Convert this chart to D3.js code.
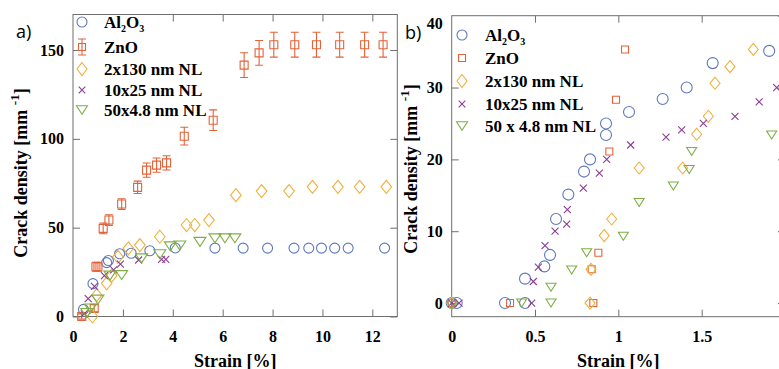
<!DOCTYPE html>
<html>
<head>
<meta charset="utf-8">
<script src="https://cdn.jsdelivr.net/npm/d3@7"></script>
<style>
  html, body { margin: 0; padding: 0; background: white; }
  svg { display: block; }
</style>
</head>
<body>
<div id="app"></div>
<script>
// panel a: strain [%], crack density [1/mm]
const al2o3A = [[0.42,4],[0.8,18.5],[1.35,30.3],[1.42,31.5],[1.87,35.3],[2.33,35.6],[3.08,37],[4.1,38.6],[5.69,38.5],[6.82,38.5],[7.8,38.5],[8.86,38.5],[9.45,38.5],[9.96,38.5],[10.49,38.5],[11.03,38.5],[12.49,38.5]];
// x, y, error
const znoA = [[0.35,0,1.5],[0.85,4.6,2],[0.92,28,2.5],[1.0,28,2.5],[1.21,49.6,3],[1.44,54.3,3],[1.95,63.3,3],[2.59,72.7,3.5],[2.95,82.4,4],[3.35,85.2,4],[3.75,86.5,4],[4.46,101.5,5],[5.62,110.5,5.8],[6.86,141.5,7],[7.46,148.4,7],[8.05,153,7],[8.89,153,7],[9.76,153,7],[10.69,153,7],[11.69,153,7],[12.43,153,7]];
const nl130A = [[0.78,0],[0.95,12],[1.35,18.7],[1.55,23],[1.8,33.6],[2.22,38.4],[2.68,40.2],[3.48,44.9],[4.55,51.5],[4.88,51.5],[5.45,54.3],[6.53,68.3],[7.56,70.6],[8.66,70.6],[9.6,73],[10.62,73],[11.49,73],[12.56,73]];
const nl25A = [[0.45,1.5],[0.61,10],[0.86,17],[1.26,23],[1.63,26.2],[1.9,29.5],[2.63,31.8],[3.55,32.2],[3.72,32.2]];
const nl48A = [[0.55,2],[0.7,4.5],[1.0,9.5],[1.48,23],[1.95,23.3],[2.75,32.7],[3.48,35],[3.9,39.5],[4.28,40],[5.09,42],[5.69,44],[6.09,44],[6.49,44]];

// panel b: zoom on low strain
const al2o3B = [[0,0],[0.03,0],[0.32,0],[0.44,0],[0.44,3.4],[0.556,5.1],[0.59,6.7],[0.626,11.7],[0.70,15.1],[0.794,18.3],[0.83,20.0],[0.926,23.4],[0.926,25.0],[1.064,26.6],[1.266,28.4],[1.41,30.0],[1.566,33.4],[1.905,35.1]];
const znoB = [[0,0],[0.35,0],[0.85,0],[0.84,4.7],[0.88,7],[0.946,21.1],[0.986,28.3],[1.04,35.3]];
const nl130B = [[0,0],[0.83,0],[0.836,4.7],[0.915,9.4],[0.96,11.7],[1.125,18.8],[1.386,18.8],[1.47,23.5],[1.54,26],[1.58,30.6],[1.67,32.9],[1.81,35.3]];
const nl25B = [[0,0],[0.044,0],[0.48,0],[0.49,3],[0.52,5],[0.56,8],[0.62,10],[0.69,11],[0.694,13],[0.79,16],[0.886,18.1],[0.93,20],[1.074,22],[1.286,23.1],[1.38,24.1],[1.51,25],[1.70,26],[1.845,28],[1.95,30]];
const nl48B = [[0,-0.3],[0.42,0],[0.596,0],[0.596,2.2],[0.72,4.6],[0.81,7],[1.03,9.3],[1.125,14],[1.33,16.3],[1.425,18.6],[1.44,21.1],[1.92,23.4]];

const xTicksA = [0, 2, 4, 6, 8, 10, 12];
const yTicksA = [0, 50, 100, 150];
const xTicksB = [0, 0.5, 1, 1.5, 2];
const yTicksB = [0, 10, 20, 30, 40];

const legendNamesA = ['Al2O3', 'ZnO', '2x130 nm NL', '10x25 nm NL', '50x4.8 nm NL'];
const legendNamesB = ['Al2O3', 'ZnO', '2x130 nm NL', '10x25 nm NL', '50 x 4.8 nm NL'];

const colors = ['#5d79bd', '#e2633a', '#efb13c', '#8b3d93', '#7fae45'];
const shapes = ['circle', 'square', 'diamond', 'cross', 'triangle'];

const width = 779;
const height = 369;
const axisColor = '#6e6e6e';
const serif = "'Liberation Serif', 'Times New Roman', serif";

const svg = d3.select('#app').append('svg')
  .attr('width', width)
  .attr('height', height);

// marker paths
const markerPath = (shape, s) => {
  if (shape === 'circle') {
    const r = s.r;
    return `M${r},0A${r},${r} 0 1,1 ${-r},0A${r},${r} 0 1,1 ${r},0Z`;
  }
  if (shape === 'square') {
    const h = s.sq;
    return `M${-h},${-h}H${h}V${h}H${-h}Z`;
  }
  if (shape === 'diamond') {
    return `M0,${-s.dh}L${s.dw},0L0,${s.dh}L${-s.dw},0Z`;
  }
  if (shape === 'triangle') {
    return `M${-s.tw},${-s.th}L${s.tw},${-s.th}L0,${s.th}Z`;
  }
  const a = s.x;
  return `M${-a},${-a}L${a},${a}M${-a},${a}L${a},${-a}`;
};

function drawPanel(cfg) {
  const { xScale, yScale, xTicks, yTicks, series, sizes, g } = cfg;
  const [x0, x1] = xScale.range();
  const [y0, y1] = yScale.range();

  // box
  g.append('rect')
    .attr('x', x0).attr('y', y1)
    .attr('width', x1 - x0).attr('height', y0 - y1)
    .attr('fill', 'white')
    .attr('stroke', axisColor)
    .attr('stroke-width', 1);

  const styleAxis = (sel) => {
    sel.select('.domain').remove();
    sel.selectAll('.tick line').attr('stroke', axisColor);
    sel.selectAll('.tick text')
      .style('font-family', serif)
      .style('font-weight', 'bold')
      .style('font-size', '16px')
      .attr('fill', 'black');
  };

  const xAxis = g.append('g')
    .attr('transform', `translate(0,${y0})`)
    .call(d3.axisBottom(xScale).tickValues(xTicks).tickSizeInner(-7).tickSizeOuter(0)
      .tickPadding(cfg.xPad).tickFormat(d3.format('')))
    .call(styleAxis);
  g.append('g')
    .attr('transform', `translate(0,${y1})`)
    .call(d3.axisTop(xScale).tickValues(cfg.topTicks).tickSizeInner(-7).tickSizeOuter(0).tickFormat(''))
    .call(styleAxis);
  const yAxis = g.append('g')
    .attr('transform', `translate(${x0},0)`)
    .call(d3.axisLeft(yScale).tickValues(yTicks).tickSizeInner(-7).tickSizeOuter(0)
      .tickPadding(cfg.yPad).tickFormat(d3.format('')))
    .call(styleAxis);
  g.append('g')
    .attr('transform', `translate(${x1},0)`)
    .call(d3.axisRight(yScale).tickValues(yTicks).tickSizeInner(-7).tickSizeOuter(0).tickFormat(''))
    .call(styleAxis);
  // hide the corner tick marks
  xAxis.selectAll('.tick line').filter((d) => d === xTicks[0] || xScale(d) >= x1 - 1).remove();
  yAxis.selectAll('.tick line').filter((d) => yScale(d) <= y1 + 1).remove();
  if (cfg.topLabelShift) {
    yAxis.selectAll('.tick text').filter((d) => yScale(d) <= y1 + 1).attr('dy', '0.78em');
  }

  // error bars
  series.forEach((s) => {
    if (!s.errors) return;
    const eb = g.append('g').attr('stroke', s.color).attr('stroke-width', 1.1).attr('fill', 'none');
    eb.selectAll('path')
      .data(s.data)
      .join('path')
      .attr('d', (d) => {
        const cx = xScale(d[0]);
        const top = yScale(d[1] + d[2]);
        const bot = yScale(d[1] - d[2]);
        const c = 4;
        return `M${cx},${top}V${bot}M${cx - c},${top}H${cx + c}M${cx - c},${bot}H${cx + c}`;
      });
  });

  // markers
  series.forEach((s) => {
    g.append('g')
      .selectAll('path')
      .data(s.data)
      .join('path')
      .attr('transform', (d) => `translate(${xScale(d[0])},${yScale(d[1])})`)
      .attr('d', markerPath(s.shape, sizes))
      .attr('fill', 'none')
      .attr('stroke', s.color)
      .attr('stroke-width', 1.1);
  });

  // legend
  const legend = g.append('g')
    .style('font-family', serif)
    .style('font-weight', 'bold')
    .style('font-size', '17px');
  series.forEach((s, i) => {
    const row = legend.append('g')
      .attr('transform', `translate(0,${cfg.legendRows[i]})`);
    if (s.errors && cfg.legendErr) {
      const mx = cfg.legendMarkerX;
      row.append('path')
        .attr('d', `M${mx},-8V8M${mx - 4},-8H${mx + 4}M${mx - 4},8H${mx + 4}`)
        .attr('stroke', s.color).attr('stroke-width', 1.1).attr('fill', 'none');
    }
    row.append('path')
      .attr('transform', `translate(${cfg.legendMarkerX},0)`)
      .attr('d', markerPath(s.shape, cfg.legendSizes))
      .attr('fill', 'none')
      .attr('stroke', s.color)
      .attr('stroke-width', 1.1);
    const text = row.append('text')
      .attr('x', cfg.legendTextX)
      .attr('y', 6);
    if (s.name === 'Al2O3') {
      text.append('tspan').text('Al');
      text.append('tspan').style('font-size', '10px').attr('dy', 4).text('2');
      text.append('tspan').attr('dy', -4).text('O');
      text.append('tspan').style('font-size', '10px').attr('dy', 4).text('3');
    } else {
      text.text(s.name);
    }
  });

  // axis labels
  g.append('text')
    .style('font-family', serif)
    .style('font-weight', 'bold')
    .style('font-size', '18px')
    .attr('text-anchor', 'middle')
    .attr('x', (x0 + x1) / 2)
    .attr('y', 366.5)
    .text('Strain [%]');

  const yl = g.append('text')
    .style('font-family', serif)
    .style('font-weight', 'bold')
    .style('font-size', '18px')
    .attr('text-anchor', 'middle')
    .attr('transform', `translate(${cfg.yLabelX},${cfg.yLabelY}) rotate(-90)`);
  yl.append('tspan').text('Crack density [mm ');
  yl.append('tspan').style('font-size', '13px').attr('dy', -8).text('-1');
  yl.append('tspan').attr('dy', 8).text(']');

  g.append('text')
    .style('font-family', "'Open Sans', sans-serif")
    .style('font-size', '18px')
    .attr('x', cfg.tagX)
    .attr('y', cfg.tagY)
    .text(cfg.tag);
}

const buildSeries = (datasets, names) => datasets.map((data, i) => ({
  name: names[i],
  data,
  color: colors[i],
  shape: shapes[i],
  errors: i === 1 && data[0].length === 3,
}));

// panel a
const panelA = svg.append('g');
drawPanel({
  g: panelA,
  xScale: d3.scaleLinear().domain([0, 13]).range([73, 397.3]),
  yScale: d3.scaleLinear().domain([0, 170]).range([316.5, 14.5]),
  xTicks: xTicksA,
  topTicks: xTicksA.slice(2),
  yTicks: yTicksA,
  xPad: 14,
  yPad: 9,
  series: buildSeries([al2o3A, znoA, nl130A, nl25A, nl48A], legendNamesA),
  sizes: { r: 5, sq: 4, dw: 5.3, dh: 6.5, tw: 6, th: 4.5, x: 3.5 },
  legendSizes: { r: 5, sq: 3.5, dw: 5, dh: 6.5, tw: 5.5, th: 4.2, x: 3.3 },
  legendRows: [22, 47, 69, 90, 110],
  legendMarkerX: 82,
  legendTextX: 104,
  legendErr: true,
  yLabelX: 27,
  yLabelY: 173,
  tag: 'a)',
  tagX: 16,
  tagY: 38,
});

// panel b sits on top of panel a's right side
svg.append('rect')
  .attr('x', 398).attr('y', 0)
  .attr('width', width - 398).attr('height', height)
  .attr('fill', 'white');

const panelB = svg.append('g');
drawPanel({
  g: panelB,
  xScale: d3.scaleLinear().domain([0, 2]).range([451.7, 785]),
  yScale: d3.scaleLinear().domain([-1.9, 40]).range([316.7, 15.7]),
  xTicks: xTicksB,
  topTicks: xTicksB.slice(1),
  yTicks: yTicksB,
  xPad: 14,
  yPad: 9,
  topLabelShift: true,
  series: buildSeries([al2o3B, znoB, nl130B, nl25B, nl48B], legendNamesB),
  sizes: { r: 5.5, sq: 3.5, dw: 5, dh: 6, tw: 5, th: 4, x: 3.5 },
  legendSizes: { r: 5, sq: 3.5, dw: 5, dh: 6.5, tw: 5.5, th: 4.2, x: 3.3 },
  legendRows: [35, 58, 81, 104, 126],
  legendMarkerX: 462,
  legendTextX: 485,
  legendErr: false,
  yLabelX: 417,
  yLabelY: 169,
  tag: 'b)',
  tagX: 405,
  tagY: 39,
});
</script>
</body>
</html>
